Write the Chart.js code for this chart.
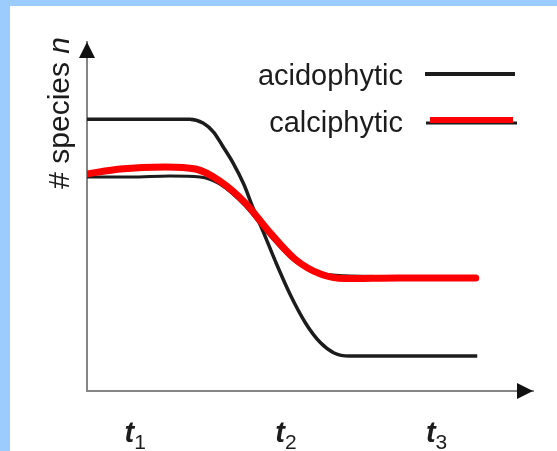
<!DOCTYPE html>
<html>
<head>
<meta charset="utf-8">
<title># species n</title>
<script src="https://cdn.jsdelivr.net/npm/chart.js@4/dist/chart.umd.min.js"></script>
<style>
  html, body { margin: 0; padding: 0; background: #fff; }
  canvas { display: block; }
</style>
</head>
<body>
<canvas id="chart" width="557" height="451"></canvas>
<script>
/* ── Data ────────────────────────────────────────── */
const acidoX   = [0.68, 1.36, 1.45, 1.52, 1.58, 1.65, 1.72, 1.78, 1.85, 1.93, 2.03, 2.13, 2.23, 2.32, 2.42, 3.27];
const acidoY   = [7.79, 7.79, 7.68, 7.42, 7.02, 6.53, 5.93, 5.27, 4.56, 3.72, 2.75, 1.95, 1.38, 1.09, 1.00, 1.00];

const calciX   = [0.68, 0.90, 1.20, 1.40, 1.56, 1.73, 1.89, 2.06, 2.23, 2.39, 2.75, 3.26];
const calciY   = [6.22, 6.36, 6.42, 6.36, 6.02, 5.39, 4.56, 3.78, 3.35, 3.22, 3.24, 3.24];

// thin black line that sits under the red one
const calciBaseX = [0.68, 0.97, 1.23, 1.43, 1.56, 1.73, 1.89, 2.06, 2.23, 2.39, 2.89];
const calciBaseY = [6.13, 6.13, 6.16, 6.13, 5.93, 5.30, 4.47, 3.72, 3.38, 3.30, 3.27];

const tickValues  = [1, 2, 3];
const tickLetters = ["t", "t", "t"];
const tickSubs    = ["1", "2", "3"];

const seriesLabels = ["acidophytic", "calciphytic"];
const yTitle       = "# species ";
const yTitleVar    = "n";

const X_MIN = 0.68, X_MAX = 3.64;
const Y_MIN = 0,    Y_MAX = 10;

const FONT = "'Liberation Sans', Arial, sans-serif";
const INK  = "#1c1c1c";
const RED  = "#ff0000";
const AXIS = "#858585";

const pts = (xs, ys) => xs.map((x, i) => ({ x, y: ys[i] }));

/* ── Decorations: frame, arrows, legend, labels ──── */
const decor = {
  id: "decor",
  beforeDraw(chart) {
    const { ctx, width, height } = chart;
    ctx.save();
    ctx.fillStyle = "#9ccbfe";
    ctx.fillRect(0, 0, width, height);
    ctx.fillStyle = "#ffffff";
    ctx.fillRect(10, 6, width - 10, height - 6);
    ctx.restore();
  },
  afterDraw(chart) {
    const { ctx, chartArea: a } = chart;
    const xs = chart.scales.x;

    ctx.save();
    // arrow heads
    ctx.fillStyle = "#111";
    ctx.beginPath();
    ctx.moveTo(a.left, a.top);
    ctx.lineTo(a.left - 8, a.top + 16);
    ctx.lineTo(a.left + 8, a.top + 16);
    ctx.closePath();
    ctx.fill();
    ctx.beginPath();
    ctx.moveTo(a.right, a.bottom);
    ctx.lineTo(a.right - 16, a.bottom - 8);
    ctx.lineTo(a.right - 16, a.bottom + 8);
    ctx.closePath();
    ctx.fill();

    // x tick labels, t with subscript
    ctx.fillStyle = INK;
    ctx.textBaseline = "alphabetic";
    const bigFont = "italic bold 29px " + FONT;
    const subFont = "21px " + FONT;
    tickValues.forEach((v, i) => {
      const px = xs.getPixelForValue(v);
      ctx.font = bigFont;
      const wT = ctx.measureText(tickLetters[i]).width;
      ctx.font = subFont;
      const wS = ctx.measureText(tickSubs[i]).width;
      const x0 = px - (wT + wS) / 2;
      ctx.textAlign = "left";
      ctx.font = bigFont;
      ctx.fillText(tickLetters[i], x0, 442);
      ctx.font = subFont;
      ctx.fillText(tickSubs[i], x0 + wT, 449);
    });

    // y title, rotated, "n" in italic
    ctx.translate(69, a.top - 5);
    ctx.rotate(-Math.PI / 2);
    ctx.textAlign = "right";
    ctx.font = "italic 30px " + FONT;
    const wN = ctx.measureText(yTitleVar).width;
    ctx.fillText(yTitleVar, 0, 0);
    ctx.font = "30px " + FONT;
    ctx.fillText(yTitle, -wN, 0);
    ctx.restore();

    // legend: text on the left, line sample on the right
    ctx.save();
    ctx.font = "29px " + FONT;
    ctx.textAlign = "right";
    ctx.fillStyle = INK;
    const rows = [85, 132];
    seriesLabels.forEach((lab, i) => {
      ctx.fillText(lab, 403, rows[i]);
    });
    ctx.lineCap = "butt";
    ctx.strokeStyle = INK;
    ctx.lineWidth = 4;
    ctx.beginPath(); ctx.moveTo(425, 74); ctx.lineTo(515, 74); ctx.stroke();
    ctx.lineWidth = 3;
    ctx.beginPath(); ctx.moveTo(426, 123); ctx.lineTo(517, 123); ctx.stroke();
    ctx.strokeStyle = RED;
    ctx.lineWidth = 6;
    ctx.beginPath(); ctx.moveTo(430, 120); ctx.lineTo(513, 120); ctx.stroke();
    ctx.restore();
  }
};

/* ── Chart ───────────────────────────────────────── */
new Chart(document.getElementById("chart"), {
  type: "line",
  data: {
    datasets: [
      {
        label: seriesLabels[0],
        data: pts(acidoX, acidoY),
        borderColor: INK,
        borderWidth: 3.5,
        pointRadius: 0,
        cubicInterpolationMode: "monotone",
        order: 3,
      },
      {
        label: "",
        data: pts(calciBaseX, calciBaseY),
        borderColor: INK,
        borderWidth: 3,
        pointRadius: 0,
        cubicInterpolationMode: "monotone",
        order: 2,
      },
      {
        label: seriesLabels[1],
        data: pts(calciX, calciY),
        borderColor: RED,
        borderWidth: 7,
        borderCapStyle: "round",
        pointRadius: 0,
        cubicInterpolationMode: "monotone",
        order: 1,
      },
    ]
  },
  options: {
    responsive: false,
    animation: false,
    devicePixelRatio: 1,
    layout: { padding: { left: 87, top: 42, right: 24, bottom: 60 } },
    plugins: {
      legend:  { display: false },
      tooltip: { enabled: false },
    },
    scales: {
      x: {
        type: "linear",
        min: X_MIN, max: X_MAX,
        grid:   { display: false, drawTicks: false },
        ticks:  { display: false },
        border: { display: true, color: AXIS, width: 2 },
      },
      y: {
        min: Y_MIN, max: Y_MAX,
        grid:   { display: false, drawTicks: false },
        ticks:  { display: false },
        border: { display: true, color: AXIS, width: 2 },
      }
    }
  },
  plugins: [decor]
});
</script>
</body>
</html>
